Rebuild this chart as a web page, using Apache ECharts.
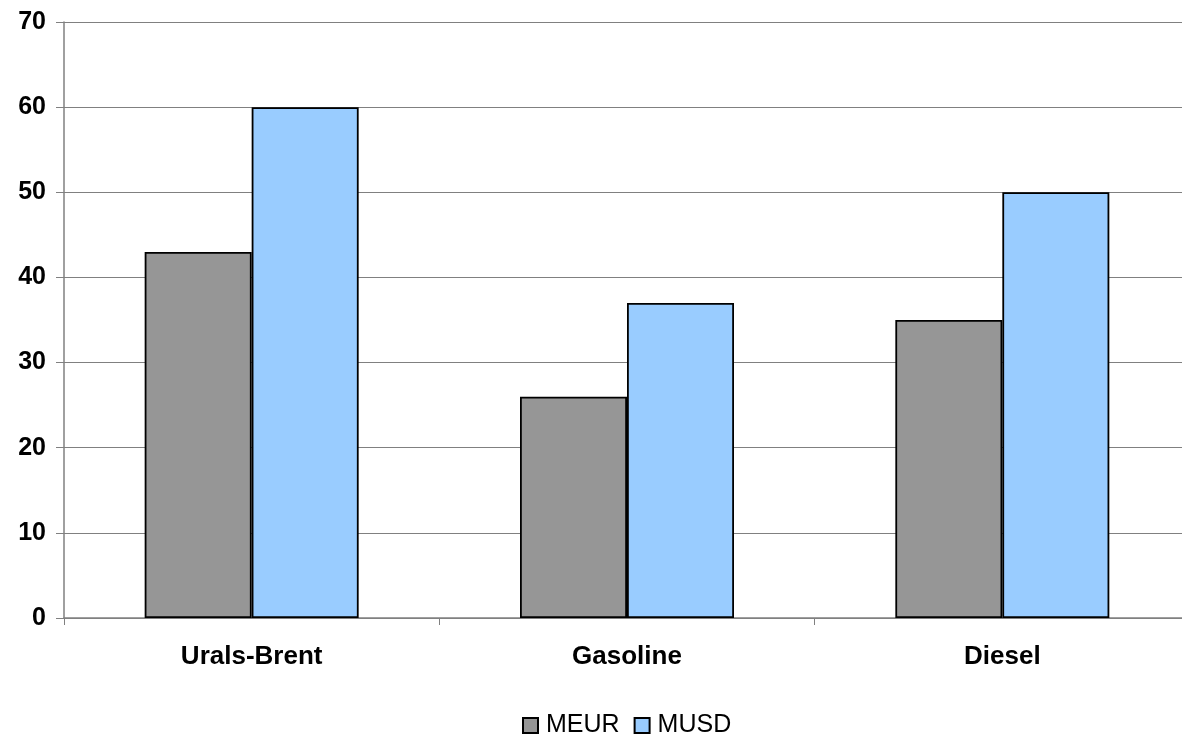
<!DOCTYPE html>
<html>
<head>
<meta charset="utf-8">
<script src="https://cdn.jsdelivr.net/npm/echarts@6/dist/echarts.min.js"></script>
<style>
  html, body { margin: 0; padding: 0; background: #fff; overflow: hidden; }
  /* plot area runs slightly past the right edge of the window */
  #chart { width: 1190px; height: 734px; }
</style>
</head>
<body>
<div id="chart"></div>
<script>
// Categories and values (millions)
const categories = ['Urals-Brent', 'Gasoline', 'Diesel'];
const meur = [43, 26, 35];
const musd = [60, 37, 50];
const yTicks = [0, 10, 20, 30, 40, 50, 60, 70];

const chart = echarts.init(document.getElementById('chart'));
const font = '"Liberation Sans", Arial, sans-serif';

chart.setOption({
  animation: false,
  grid: { left: 64, top: 22, right: 0, height: 596, containLabel: false },
  legend: {
    data: ['MEUR', 'MUSD'],
    top: 708,
    left: 517,
    itemWidth: 15,
    itemHeight: 15,
    itemGap: 14,
    icon: 'rect',
    textStyle: { fontFamily: font, fontSize: 25, color: '#000', padding: [0, 0, 0, 3] }
  },
  xAxis: {
    type: 'category',
    data: categories,
    axisLine: { lineStyle: { color: '#808080', width: 1.5 } },
    axisTick: { show: true, alignWithLabel: false, length: 7, lineStyle: { color: '#808080' } },
    axisLabel: { fontFamily: font, fontSize: 26, fontWeight: 'bold', color: '#000', margin: 26 }
  },
  yAxis: {
    type: 'value',
    min: yTicks[0],
    max: yTicks[yTicks.length - 1],
    interval: 10,
    axisLine: { show: true, lineStyle: { color: '#808080', width: 1.5 } },
    axisTick: { show: true, length: 8, lineStyle: { color: '#808080' } },
    splitLine: { lineStyle: { color: '#808080', width: 1.2 } },
    axisLabel: { fontFamily: font, fontSize: 25, fontWeight: 'bold', color: '#000', margin: 18 }
  },
  series: [
    {
      name: 'MEUR',
      type: 'bar',
      data: meur,
      barWidth: 107,
      barGap: '0%',
      itemStyle: { color: '#969696', borderColor: '#000', borderWidth: 1.8 }
    },
    {
      name: 'MUSD',
      type: 'bar',
      data: musd,
      barWidth: 107,
      barGap: '0%',
      itemStyle: { color: '#99ccff', borderColor: '#000', borderWidth: 1.8 }
    }
  ]
});
</script>
</body>
</html>
